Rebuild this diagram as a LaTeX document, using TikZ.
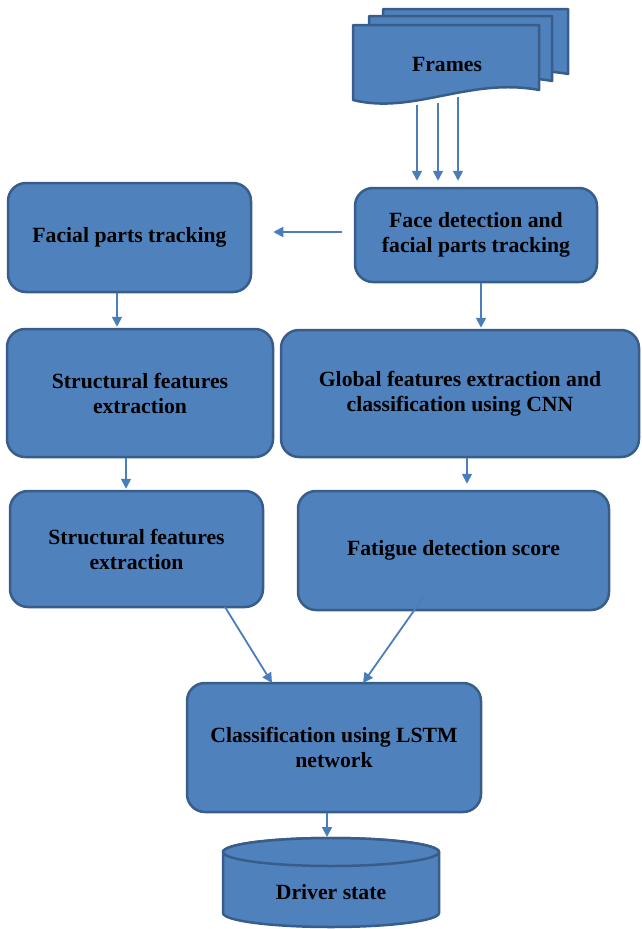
\documentclass[tikz,border=0pt]{standalone}
\usepackage{fontspec}
\setmainfont{Liberation Serif}
\usetikzlibrary{arrows.meta}
\definecolor{boxfill}{HTML}{4F81BD}
\definecolor{boxline}{HTML}{385D8A}
\definecolor{arrowcol}{HTML}{4A7EBB}
\tikzset{
  box/.style={draw=boxline, fill=boxfill, line width=2.5pt, rounded corners=18pt,
    align=center, font=\fontsize{21.7}{25}\selectfont\bfseries, text=black, inner sep=0pt},
  docshape/.style={draw=boxline, fill=boxfill, line width=2.5pt, line join=round},
  arr/.style={draw=arrowcol, line width=1.8pt, -{Triangle[length=10pt,width=10pt]}},
  lbl/.style={align=center, font=\fontsize{21.7}{25}\selectfont\bfseries, text=black, inner sep=0pt}
}
\begin{document}
\begin{tikzpicture}[x=1pt,y=-1pt]
\useasboundingbox (0,0) rectangle (641,929);
% Frames (stacked documents)
\draw[docshape] (383,9) -- (568,9) -- (568,74) .. controls (498,61) and (443,99) .. (383,84) -- cycle;
\draw[docshape] (369,16) -- (552,16) -- (552,81) .. controls (482,68) and (429,106) .. (369,91) -- cycle;
\draw[docshape] (353,25) -- (539,25) -- (539,90) .. controls (469,77) and (413,115) .. (353,100) -- cycle;
\node[lbl] (frames) at (447,65) {Frames};
\coordinate (fr1) at (417,105);
\coordinate (fr2) at (438,103);
\coordinate (fr3) at (458,97);
% boxes
\node[box, minimum width=242pt, minimum height=94pt] (face) at (476,235) {Face detection and\\facial parts tracking};
\node[box, minimum width=243pt, minimum height=109pt] (track) at (129.5,237.5) {Facial parts tracking};
\node[box, minimum width=266pt, minimum height=128pt] (struct1) at (140,393) {Structural features\\extraction};
\node[box, minimum width=358pt, minimum height=127pt] (global) at (460,393.5) {Global features extraction and\\classification using CNN};
\node[box, minimum width=253pt, minimum height=116pt] (struct2) at (136.5,549) {Structural features\\extraction};
\node[box, minimum width=311pt, minimum height=119pt] (fatigue) at (453.5,550.5) {Fatigue detection score};
\node[box, minimum width=294pt, minimum height=129pt] (lstm) at (334,747.5) {Classification using LSTM\\network};
% cylinder
\filldraw[docshape] (223,852) -- (223,913) arc[start angle=180, end angle=0, x radius=108, y radius=14] -- (439,852) arc[start angle=0, end angle=-180, x radius=108, y radius=14] -- cycle;
\filldraw[docshape] (331,852) ellipse[x radius=108, y radius=14];
\node[lbl] (driver) at (331,892) {Driver state};
% connectors
\draw[arr, shorten >=6pt] (fr1) -- (fr1 |- face.north);
\draw[arr, shorten >=6pt] (fr2) -- (fr2 |- face.north);
\draw[arr, shorten >=6pt] (fr3) -- (fr3 |- face.north);
\draw[arr, shorten <=12pt, shorten >=21pt] (face.west |- 0,232) -- (track.east |- 0,232);
\draw[arr, shorten >=1pt] (track.south -| 117,0) -- (struct1.north -| 117,0);
\draw[arr, shorten >=1pt] (face.south -| 481,0) -- (global.north -| 481,0);
\draw[arr, shorten >=1pt] (struct1.south -| 126,0) -- (struct2.north -| 126,0);
\draw[arr, shorten >=6pt] (global.south -| 467,0) -- (fatigue.north -| 467,0);
\coordinate (s2a) at (225,607);
\coordinate (s2b) at (272,683);
\draw[arr] (s2a) -- (s2b);
\coordinate (fta) at (425,595);
\coordinate (ftb) at (363,683);
\draw[arr] (fta) -- (ftb);
\draw[arr, shorten >=1pt] (lstm.south -| 327,0) -- (327,838);
\end{tikzpicture}
\end{document}
